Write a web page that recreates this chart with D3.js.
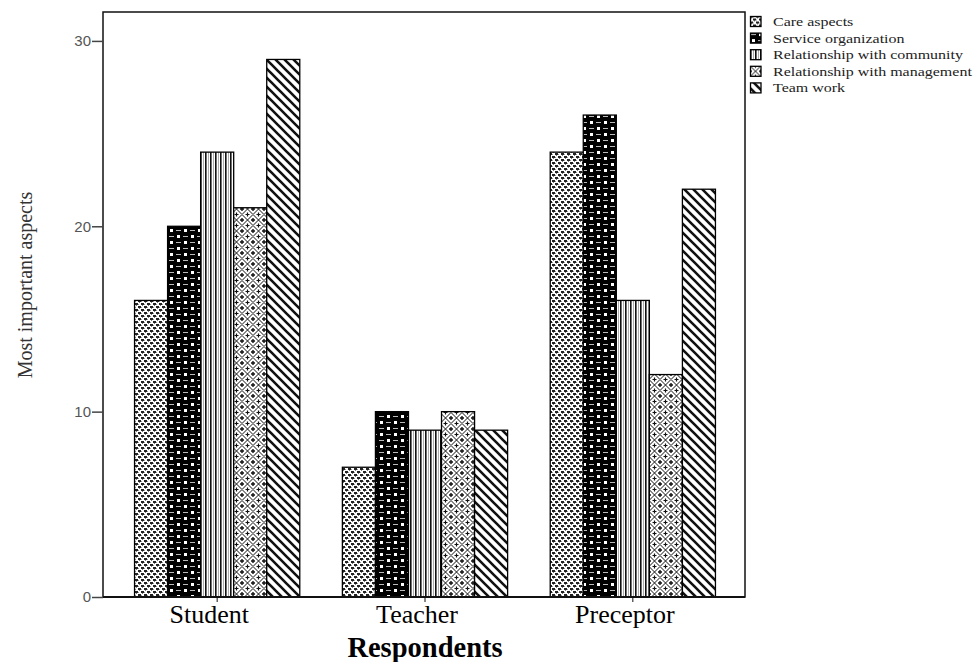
<!DOCTYPE html>
<html><head><meta charset="utf-8">
<script src="https://cdn.jsdelivr.net/npm/d3@7"></script>
<style>body{margin:0;background:#fff}svg{display:block}</style>
</head><body>
<script>
const categories = ["Student", "Teacher", "Preceptor"];
const seriesNames = ["Care aspects", "Service organization", "Relationship with community", "Relationship with management", "Team work"];
const careAspects = [16, 7, 24];
const serviceOrganization = [20, 10, 26];
const relCommunity = [24, 9, 16];
const relManagement = [21, 10, 12];
const teamWork = [29, 9, 22];
const yTicks = [0, 10, 20, 30];
const seriesValues = [careAspects, serviceOrganization, relCommunity, relManagement, teamWork];

const W = 974, H = 662;
const svg = d3.select("body").append("svg").attr("width", W).attr("height", H);
const defs = svg.append("defs");

function pat(id, w, h, bg) {
  const p = defs.append("pattern").attr("id", id).attr("patternUnits", "userSpaceOnUse").attr("width", w).attr("height", h);
  p.append("rect").attr("width", w).attr("height", h).attr("fill", bg);
  return p;
}
{
  const p = pat("p0", 6, 6, "#fff");
  p.append("rect").attr("x",0).attr("y",0).attr("width",3).attr("height",2).attr("fill","#222");
  p.append("rect").attr("x",3).attr("y",3).attr("width",3).attr("height",2).attr("fill","#222");
  p.append("rect").attr("x",1).attr("y",2).attr("width",1).attr("height",1).attr("fill","#777");
  p.append("rect").attr("x",4).attr("y",5).attr("width",1).attr("height",1).attr("fill","#777");
  p.append("rect").attr("x",3).attr("y",1).attr("width",1).attr("height",1).attr("fill","#999");
  p.append("rect").attr("x",0).attr("y",4).attr("width",1).attr("height",1).attr("fill","#999");
}
{
  const p = pat("p1", 14, 12, "#000");
  p.append("rect").attr("x",2).attr("y",1).attr("width",3).attr("height",3).attr("fill","#fff");
  p.append("rect").attr("x",9).attr("y",7).attr("width",3).attr("height",3).attr("fill","#fff");
  p.append("rect").attr("x",8).attr("y",2).attr("width",5).attr("height",1).attr("fill","#bbb");
  p.append("rect").attr("x",1).attr("y",8).attr("width",5).attr("height",1).attr("fill","#bbb");
}
{
  const p = pat("p2", 5, 5, "#fff");
  p.append("rect").attr("x",0).attr("y",0).attr("width",1.6).attr("height",5).attr("fill","#111");
  p.append("rect").attr("x",3).attr("y",0).attr("width",0.8).attr("height",5).attr("fill","#999");
}
{
  const p = pat("p3", 11, 11, "#fff");
  const s = 11, h = s/2;
  p.append("path").attr("d", `M0,${h}L${h},0L${s},${h}L${h},${s}Z`).attr("fill","none").attr("stroke","#111").attr("stroke-width",1);
  p.append("path").attr("d", `M${h-2},${h}H${h+2}M${h},${h-2}V${h+2}`).attr("stroke","#111").attr("stroke-width",1.2);
  p.append("path").attr("d", `M0,0H2M${s-2},0H${s}M0,${s}H2M${s-2},${s}H${s}M0,0V2M0,${s-2}V${s}M${s},0V2M${s},${s-2}V${s}`).attr("stroke","#111").attr("stroke-width",1.4);
}
{
  const p = pat("p4", 9, 9, "#fff");
  p.append("path").attr("d","M-2,-2L11,11M-11,-2L2,11M7,-2L20,11").attr("stroke","#111").attr("stroke-width",2.6);
}

const pLeft = 103, pRight = 745, pTop = 12, pBottom = 597;
const x0 = d3.scaleBand().domain(categories).range([pLeft + 1, pRight + 1]).paddingInner(0.205).paddingOuter(0.147);
const x1 = d3.scaleBand().domain(seriesNames).range([0, x0.bandwidth()]);
const y = d3.scaleLinear().domain([0, 31.56]).range([pBottom, pTop]);

const data = [];
categories.forEach((c, ci) => seriesNames.forEach((s, si) => data.push({c, s, si, v: seriesValues[si][ci]})));
svg.append("g").selectAll("rect").data(data).join("rect")
  .attr("x", d => x0(d.c) + x1(d.s))
  .attr("y", d => y(d.v))
  .attr("width", x1.bandwidth())
  .attr("height", d => y(0) - y(d.v))
  .attr("fill", d => `url(#p${d.si})`)
  .attr("stroke", "#000").attr("stroke-width", 1.3);

svg.append("rect").attr("x", pLeft).attr("y", pTop).attr("width", pRight - pLeft).attr("height", pBottom - pTop)
  .attr("fill", "none").attr("stroke", "#111").attr("stroke-width", 1.5);
svg.append("line").attr("x1", pLeft).attr("x2", pRight).attr("y1", pBottom).attr("y2", pBottom).attr("stroke", "#111").attr("stroke-width", 2.2);

const yAxis = svg.append("g").attr("transform", `translate(${pLeft},0)`)
  .call(d3.axisLeft(y).tickValues(yTicks).tickSize(11).tickPadding(1).tickFormat(d3.format("d")));
yAxis.select(".domain").remove();
yAxis.selectAll(".tick line").attr("stroke", "#444").attr("stroke-width", 1.5);
yAxis.selectAll(".tick text").attr("font-family", "Liberation Sans, Arial, sans-serif").attr("font-size", 15).attr("fill", "#555");

const xAxis = svg.append("g").attr("transform", `translate(0,${pBottom})`)
  .call(d3.axisBottom(x0).tickSize(5).tickPadding(3));
xAxis.select(".domain").remove();
xAxis.selectAll(".tick line").attr("stroke", "#111");
xAxis.selectAll(".tick text").attr("font-family", "Liberation Serif, Times New Roman, serif").attr("font-size", 26).attr("fill", "#000").attr("dx", -8);

svg.append("text").attr("x", 425).attr("y", 657).attr("text-anchor", "middle")
  .attr("font-family", "Liberation Serif, Times New Roman, serif").attr("font-weight", "bold").attr("font-size", 28.5).text("Respondents");
svg.append("text").attr("transform", "translate(32,285) rotate(-90)").attr("text-anchor", "middle")
  .attr("font-family", "Liberation Serif, Times New Roman, serif").attr("font-size", 20).attr("fill", "#333").text("Most important aspects");

const lg = svg.append("g").attr("transform", "translate(750,21.5)");
const items = lg.selectAll("g").data(seriesNames).join("g").attr("transform", (d, i) => `translate(0,${i * 16.6})`);
items.append("rect").attr("x", 0.5).attr("y", -5).attr("width", 10.5).attr("height", 10)
  .attr("fill", (d, i) => `url(#p${i})`).attr("stroke", "#000").attr("stroke-width", 1.3);
items.append("text").attr("transform", "translate(23,4.5) scale(1.23,1)")
  .attr("font-family", "Liberation Serif, Times New Roman, serif").attr("font-size", 13).attr("fill", "#222").text(d => d);
</script>
</body></html>
